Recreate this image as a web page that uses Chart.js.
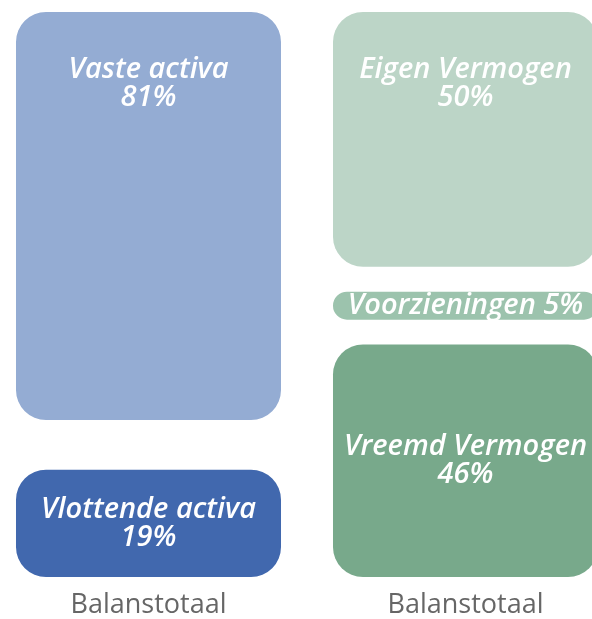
<!DOCTYPE html>
<html>
<head>
<meta charset="utf-8">
<script src="https://cdn.jsdelivr.net/npm/chart.js@4"></script>
<style>
  html, body { margin: 0; padding: 0; background: #ffffff; overflow: hidden; width: 592px; height: 619px; }
  #wrap { position: absolute; left: -10px; top: 0; width: 634px; height: 619px; }
</style>
</head>
<body>
<div id="wrap"><canvas id="c" width="634" height="619"></canvas></div>
<script>
// ---- data ----
const categories = ['Balanstotaal', 'Balanstotaal'];
// left column, top to bottom
const activaNames = ['Vaste activa', 'Vlottende activa'];
const activaValues = [81, 19];
// right column, top to bottom
const passivaNames = ['Eigen Vermogen', 'Voorzieningen', 'Vreemd Vermogen'];
const passivaValues = [50, 5, 46];

// ---- styles ----
const activaColors = ['#94acd3', '#4168ae'];
const passivaColors = ['#bcd5c7', '#9cc3ad', '#78a98b'];
const GAP_TOTAL = 8.8;   // total white space per column, in axis units

// Build floating ranges for one column: segments stacked bottom-up,
// normalised to 100, with white gaps taken from the larger neighbour.
function columnRanges(values) {
  const total = values.reduce((a, b) => a + b, 0);
  const k = 100 / total;
  const n = values.length;
  const segs = [];
  let cum = 0;
  for (let i = n - 1; i >= 0; i--) {
    const lo = cum, hi = cum + values[i] * k;
    segs[i] = { lo, hi };
    cum = hi;
  }
  const g = n > 1 ? GAP_TOTAL / (n - 1) : 0;
  for (let i = n - 1; i > 0; i--) {
    const lower = segs[i], upper = segs[i - 1];
    if (values[i] >= values[i - 1]) lower.hi -= g; else upper.lo += g;
  }
  return segs.map(s => [s.lo, s.hi]);
}

const activaRanges = columnRanges(activaValues);
const passivaRanges = columnRanges(passivaValues);

const datasets = [];
activaNames.forEach((name, i) => datasets.push({
  label: name, value: activaValues[i], topOfColumn: i === 0,
  data: [activaRanges[i], null],
  backgroundColor: activaColors[i]
}));
passivaNames.forEach((name, i) => datasets.push({
  label: name, value: passivaValues[i], topOfColumn: i === 0,
  data: [null, passivaRanges[i]],
  backgroundColor: passivaColors[i]
}));
datasets.forEach(d => Object.assign(d, {
  grouped: false,
  borderSkipped: false,
  borderRadius: 30,
  borderWidth: 0,
  barPercentage: 0.836,
  categoryPercentage: 1
}));

const LABEL_FONT = 'italic 600 29px "Open Sans"';
const LINE_H = 28;

const labelPlugin = {
  id: 'segLabels',
  afterDatasetsDraw(chart) {
    const ctx = chart.ctx;
    ctx.save();
    ctx.font = LABEL_FONT;
    ctx.fillStyle = '#ffffff';
    ctx.textAlign = 'center';
    ctx.textBaseline = 'middle';
    chart.data.datasets.forEach((ds, di) => {
      const meta = chart.getDatasetMeta(di);
      meta.data.forEach((el, idx) => {
        if (ds.data[idx] == null) return;
        const p = el.getProps(['x', 'y', 'base'], true);
        const top = Math.min(p.y, p.base), bot = Math.max(p.y, p.base);
        const h = bot - top;
        let lines;
        if (h < 2 * LINE_H + 10) lines = [ds.label + ' ' + ds.value + '%'];
        else lines = [ds.label, ds.value + '%'];
        let firstY;
        if (ds.topOfColumn) firstY = top + 58;
        else firstY = (top + bot) / 2 - (lines.length - 1) * LINE_H / 2;
        lines.forEach((t, li) => ctx.fillText(t, p.x, firstY + li * LINE_H));
      });
    });
    ctx.restore();
  }
};

new Chart(document.getElementById('c'), {
  type: 'bar',
  data: { labels: categories, datasets },
  options: {
    responsive: false,
    animation: false,
    layout: { padding: { top: 12, bottom: -15, left: 0, right: 0 } },
    plugins: { legend: { display: false }, tooltip: { enabled: false } },
    scales: {
      x: {
        grid: { display: false, drawTicks: false, tickLength: 0 },
        border: { display: false },
        ticks: { color: '#666666', font: { family: '"Open Sans"', size: 27, lineHeight: 1 }, padding: 15 }
      },
      y: { display: false, min: 0, max: 100 }
    }
  },
  plugins: [labelPlugin]
});
</script>
</body>
</html>
